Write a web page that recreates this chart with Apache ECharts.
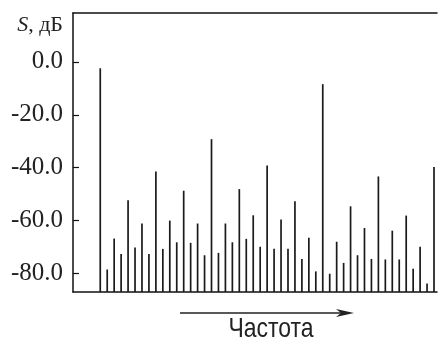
<!DOCTYPE html>
<html>
<head>
<meta charset="utf-8">
<script src="https://cdn.jsdelivr.net/npm/echarts@6/dist/echarts.min.js"></script>
<style>
  html, body { margin: 0; padding: 0; background: #fff; }
  #main { width: 440px; height: 343px; }
</style>
</head>
<body>
<div id="main"></div>
<script>
// номера гармоник и уровни спектра, дБ
const harmonics = []
for (let i = 1; i <= 49; i++) harmonics.push(i)
const levels = [
  -2.4, -78.5, -66.8, -72.6, -52.3, -70.2, -61.1, -72.6,
  -41.4, -70.7, -60.0, -68.2, -48.7, -68.4, -61.1, -73.1,
  -29.2, -72.2, -61.1, -68.2, -48.1, -66.9, -58.0, -69.9,
  -39.2, -70.6, -59.6, -70.6, -52.7, -74.5, -66.5, -79.2,
  -8.4, -80.1, -68.0, -76.0, -54.6, -73.1, -62.8, -74.5,
  -43.3, -74.7, -63.8, -74.7, -58.1, -78.2, -69.9, -83.8,
  -39.7
]
const yTicks = [0, -20, -40, -60, -80]
const yMin = -87
const yMax = 18.5

const myChart = echarts.init(document.getElementById('main'), null, { renderer: 'canvas' })

const option = {
  backgroundColor: '#fff',
  animation: false,
  grid: { left: 73, right: 3, top: 13, bottom: 51 },
  xAxis: [
    {
      type: 'value',
      min: -2.92,
      max: 49.43,
      axisLine: { show: true, onZero: false, lineStyle: { color: '#111', width: 1.5 } },
      axisTick: { show: false },
      axisLabel: { show: false },
      splitLine: { show: false }
    },
    {
      // верхняя рамка
      type: 'value',
      position: 'top',
      min: -2.92,
      max: 49.43,
      axisLine: { show: true, onZero: false, lineStyle: { color: '#111', width: 1.5 } },
      axisTick: { show: false },
      axisLabel: { show: false },
      splitLine: { show: false }
    }
  ],
  yAxis: {
    type: 'value',
    min: yMin,
    max: yMax,
    axisLine: { show: true, onZero: false, lineStyle: { color: '#111', width: 1.5 } },
    axisTick: {
      show: true,
      inside: true,
      length: 6,
      customValues: yTicks,
      lineStyle: { color: '#111', width: 1.2 }
    },
    axisLabel: {
      customValues: yTicks,
      margin: 10,
      color: '#222',
      fontFamily: 'Liberation Serif, "DejaVu Serif", serif',
      fontSize: 25,
      formatter: (v) => v.toFixed(1)
    },
    splitLine: { show: false }
  },
  graphic: [
    {
      type: 'text',
      x: 63,
      y: 25,
      style: {
        text: '{i|S}, дБ',
        align: 'right',
        verticalAlign: 'middle',
        fontFamily: 'Liberation Serif, serif',
        fontSize: 22,
        fill: '#222',
        rich: {
          i: { fontStyle: 'italic', fontFamily: 'Liberation Serif, serif', fontSize: 22 }
        }
      }
    },
    {
      type: 'line',
      shape: { x1: 180, y1: 313, x2: 345, y2: 313 },
      style: { stroke: '#222', lineWidth: 1.3 }
    },
    {
      type: 'polygon',
      shape: { points: [[336, 309], [354, 313], [336, 317], [341, 313]] },
      style: { fill: '#222' }
    },
    {
      type: 'text',
      x: 271,
      y: 329,
      scaleX: 0.82,
      style: {
        text: 'Частота',
        align: 'center',
        verticalAlign: 'middle',
        fontFamily: '"Liberation Sans", Arial, sans-serif',
        fontSize: 28,
        fill: '#222'
      }
    }
  ],
  series: [
    {
      type: 'custom',
      xAxisIndex: 0,
      data: harmonics.map((h, i) => [h, levels[i]]),
      renderItem: function (params, api) {
        const top = api.coord([api.value(0), api.value(1)])
        const base = api.coord([api.value(0), yMin])
        return {
          type: 'line',
          shape: { x1: top[0], y1: top[1], x2: base[0], y2: base[1] },
          style: { stroke: '#1a1a1a', lineWidth: 1.7 }
        }
      }
    }
  ]
}

myChart.setOption(option)
window.addEventListener('resize', function () {
  myChart.resize()
})
</script>
</body>
</html>
